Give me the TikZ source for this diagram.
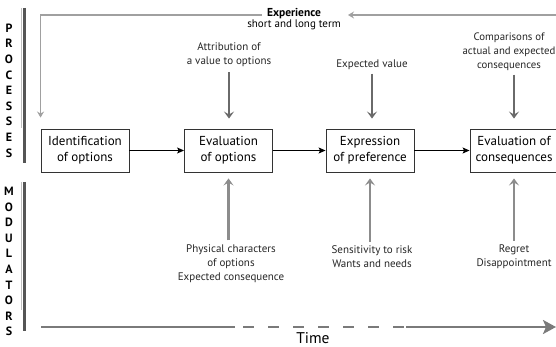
\documentclass[tikz,border=0pt]{standalone}
\usepackage{fontspec}
\setmainfont{PT Sans}
\usetikzlibrary{arrows.meta}
\definecolor{boxline}{HTML}{333333}
\definecolor{downgray}{HTML}{6A6A6A}
\definecolor{upgray}{HTML}{8C8C8C}
\definecolor{fbgray}{HTML}{A0A0A0}
\definecolor{axisgray}{HTML}{7A7A7A}
\definecolor{bargray}{HTML}{555555}
\tikzset{
  stepbox/.style={draw=boxline, line width=0.9pt, minimum width=88pt, minimum height=43pt,
    inner sep=2pt, align=center, font=\fontsize{13}{16}\selectfont},
  lbl/.style={align=center, font=\fontsize{11}{14}\selectfont, text=black!85, inner sep=0pt},
  flow/.style={line width=0.9pt, draw=black, -{Stealth[length=7pt,width=6pt,inset=1.5pt]}},
  downarr/.style={line width=2.8pt, draw=downgray, -{Stealth[length=7pt,width=10pt,inset=3pt]}},
  uparr/.style={line width=2.8pt, draw=upgray, -{Stealth[length=7pt,width=10pt,inset=3pt]}},
  fb/.style={line width=1.4pt, draw=fbgray},
  fbarr/.style={fb, -{Stealth[length=6pt,width=7pt,inset=2pt]}},
  sidebar/.style={line width=3pt, draw=bargray},
  sideshade/.style={line width=0.6pt, draw=black!25},
  vletters/.style={align=center, font=\bfseries\fontsize{12}{15.6}\selectfont, inner sep=0pt},
  timeline/.style={line width=2.4pt, draw=axisgray},
}
\begin{document}
\begin{tikzpicture}[x=1pt,y=-1pt]
\useasboundingbox (0,0) rectangle (556,347);

% side bars with their vertical captions
\draw[sideshade] (21,8) -- (21,128);
\draw[sidebar] (24.5,8) -- (24.5,163);
\draw[sideshade] (21,182) -- (21,310);
\draw[sidebar] (24.5,182) -- (24.5,331);
\node[vletters] (proc) at (9,90.5) {P\\R\\O\\C\\E\\S\\S\\E\\S};
\node[vletters] (modu) at (9,261.5) {\fontsize{12}{15.9}\selectfont M\\O\\D\\U\\L\\A\\T\\O\\R\\S};

% process steps
\node[stepbox] (id)  at (85,150.5)  {Identification\\of options};
\node[stepbox] (evo) at (228.5,150.5) {Evaluation\\of options};
\node[stepbox] (exp) at (370,150.5) {Expression\\of preference};
\node[stepbox] (evc) at (514,150.5) {Evaluation of\\consequences};

\draw[flow] (id) -- (evo);
\draw[flow] (evo) -- (exp);
\draw[flow] (exp) -- (evc);

% inputs from above
\node[lbl] (attr) at (229,55) {Attribution of\\a value to options};
\node[lbl] (expv) at (372,64.5) {Expected value};
\node[lbl, font=\fontsize{10.8}{14}\selectfont] (comp) at (509,51.5) {Comparisons of\\actual and expected\\consequences};
\draw[downarr, shorten >=10pt] ([yshift=-5pt]attr.south) -- (attr.south |- evo.north);
\draw[downarr, shorten >=10pt] ([yshift=-4pt]expv.south) -- (expv.south |- exp.north);
\draw[downarr, shorten >=10pt] ([yshift=-4pt]comp.south -| evc.north) -- (evc.north);

% modulators from below
\node[lbl] (phys) at (231,263.5) {Physical characters\\of options\\Expected consequence};
\node[lbl] (sens) at (372,257) {Sensitivity to risk\\Wants and needs};
\node[lbl] (regr) at (514,257) {Regret\\Disappointment};
\draw[uparr, shorten >=6pt] ([yshift=4pt]phys.north -| evo.south) -- (evo.south);
\draw[uparr, shorten >=6pt] ([yshift=4pt]sens.north -| exp.south) -- (exp.south);
\draw[uparr, shorten >=6pt] ([yshift=4pt]regr.north) -- (regr.north |- evc.south);

% experience feedback loop
\node[align=center, inner sep=0pt] (expr) at (294,19.5)
  {{\bfseries\fontsize{11.5}{13}\selectfont Experience}\\[-1pt]{\fontsize{11}{13}\selectfont short and long term}};
\coordinate (fbR) at (560,15);
\coordinate (fbL) at (262,15);
\coordinate (fbT) at (348,15);
\draw[fbarr] (fbR) -- (fbT);
\draw[fbarr, shorten >=11pt] (fbL) -| (id.north west);

% time axis
\coordinate (t0) at (41,327);
\coordinate (t1) at (235,327);
\coordinate (t2) at (406,327);
\coordinate (t3) at (556,327);
\draw[timeline] (t0) -- (t1);
\draw[timeline, dash pattern=on 11pt off 14pt, dash phase=-8pt] (t1) -- (t2);
\draw[timeline, -{Stealth[length=13pt,width=14pt,inset=3pt]}] (t2) -- (t3);
\node[font=\fontsize{15.5}{18}\selectfont, inner sep=0pt] (time) at (313,338.5) {Time};
\end{tikzpicture}
\end{document}
